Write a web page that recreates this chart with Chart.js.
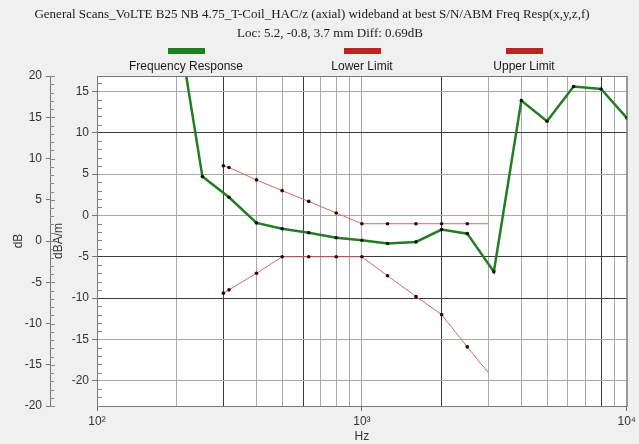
<!DOCTYPE html>
<html>
<head>
<meta charset="utf-8">
<script src="https://cdn.jsdelivr.net/npm/chart.js@4"></script>
<style>
body{margin:0;background:#f0f0f0;}
</style>
</head>
<body>
<canvas id="resp_chart" width="639" height="444"></canvas>
<script>
// measured values, dBA/m against Hz
var respFreqs = [200, 250, 315, 400, 500, 630, 800, 1000, 1250, 1600, 2000, 2500, 3150, 4000, 5000, 6300, 8000, 10000];
var respValues = [24, 4.7, 2.2, -0.9, -1.6, -2.1, -2.7, -3.0, -3.4, -3.2, -1.7, -2.2, -6.8, 13.9, 11.4, 15.6, 15.3, 11.8];

var limitFreqs = [300, 315, 400, 500, 630, 800, 1000, 1250, 1600, 2000, 2500, 3000];
var upperValues = [6.0, 5.8, 4.3, 3.0, 1.7, 0.3, -1.0, -1.0, -1.0, -1.0, -1.0, -1.0];
var lowerValues = [-9.4, -9.0, -7.0, -5.0, -5.0, -5.0, -5.0, -7.3, -9.8, -12.0, -15.9, -19.0];

var dbTicks = [-20, -15, -10, -5, 0, 5, 10, 15, 20];
var dbamTicks = [-20, -15, -10, -5, 0, 5, 10, 15];
var hzTicks = [100, 1000, 10000];
var hzLabels = ["10\u00b2", "10\u00b3", "10\u2074"];

var titleLines = [
  "General Scans_VoLTE B25 NB 4.75_T-Coil_HAC/z (axial) wideband at best S/N/ABM Freq Resp(x,y,z,f)",
  "Loc: 5.2, -0.8, 3.7 mm Diff: 0.69dB"
];
var legendNames = ["Frequency Response", "Lower Limit", "Upper Limit"];
var legendColors = ["rgb(30,125,30)", "rgb(190,35,35)", "rgb(190,35,35)"];
var legendX = [186, 362, 524];

var darkX = [300, 600, 2000, 8000];
var darkY = [10, -5, -10];

function pts(xs, ys){
  return xs.map(function(x, i){ return {x: x, y: ys[i]}; });
}

var sansFont = "'Liberation Sans', Arial, sans-serif";

var decor = {
  id: "decor",
  beforeDraw: function(chart){
    var c = chart.ctx, a = chart.chartArea;
    c.save();
    c.fillStyle = "#f0f0f0";
    c.fillRect(0, 0, chart.width, chart.height);
    c.fillStyle = "#ffffff";
    c.fillRect(a.left, a.top, a.right - a.left, a.bottom - a.top);
    c.restore();
  },
  afterDraw: function(chart){
    var c = chart.ctx, a = chart.chartArea;
    c.save();
    // title
    c.fillStyle = "#1a1a1a";
    c.textAlign = "center";
    c.textBaseline = "middle";
    c.font = "13px 'Liberation Serif', 'Times New Roman', serif";
    c.fillText(titleLines[0], 312, 15);
    c.fillText(titleLines[1], 330, 34);
    // legend
    c.font = "12px " + sansFont;
    for (var i = 0; i < legendNames.length; i++) {
      c.fillStyle = legendColors[i];
      c.fillRect(legendX[i] - 18, 48, 37, 6);
      c.fillStyle = "#1a1a1a";
      c.fillText(legendNames[i], legendX[i], 67);
    }
    // plot frame
    c.strokeStyle = "#777";
    c.lineWidth = 1;
    c.strokeRect(a.left + 0.5, a.top + 0.5, a.right - a.left, a.bottom - a.top);
    // minor ticks
    var yIn = chart.scales.y, yOut = chart.scales.y2;
    c.strokeStyle = "#888";
    c.beginPath();
    for (var v = -23; v <= 16; v++) {
      if (v % 5 === 0) continue;
      var py = Math.round(yIn.getPixelForValue(v)) + 0.5;
      c.moveTo(a.left, py); c.lineTo(a.left + 5, py);
    }
    for (var w = -20; w <= 20; w++) {
      var qy = Math.round(yOut.getPixelForValue(w)) + 0.5;
      c.moveTo(yOut.right, qy); c.lineTo(yOut.right + (w % 5 === 0 ? 5 : 4), qy);
    }
    c.stroke();
    c.restore();
  }
};

var config = {
  type: "line",
  data: {
    datasets: [{
      label: legendNames[0],
      data: pts(respFreqs, respValues),
      borderColor: "rgb(35,125,35)",
      borderWidth: 2.5,
      pointRadius: 1.8,
      pointBackgroundColor: "#111",
      pointBorderWidth: 0,
      yAxisID: "y"
    }, {
      label: legendNames[1],
      data: pts(limitFreqs, lowerValues),
      borderColor: "rgb(200,110,110)",
      borderWidth: 1,
      pointRadius: function(ctx){ return ctx.dataIndex === limitFreqs.length - 1 ? 0 : 1.8; },
      pointBackgroundColor: "#3a0000",
      pointBorderWidth: 0,
      yAxisID: "y"
    }, {
      label: legendNames[2],
      data: pts(limitFreqs, upperValues),
      borderColor: "rgb(200,110,110)",
      borderWidth: 1,
      pointRadius: function(ctx){ return ctx.dataIndex === limitFreqs.length - 1 ? 0 : 1.8; },
      pointBackgroundColor: "#3a0000",
      pointBorderWidth: 0,
      yAxisID: "y"
    }]
  },
  options: {
    responsive: false,
    animation: false,
    layout: {padding: {top: 76, left: 10, right: 12, bottom: 0}},
    plugins: {legend: {display: false}, tooltip: {enabled: false}},
    scales: {
      x: {
        type: "logarithmic",
        min: 100, max: 10000,
        afterBuildTicks: function(s){
          var t = [];
          for (var d = 100; d < 10000; d *= 10)
            for (var k = 1; k < 10; k++) t.push({value: k * d});
          t.push({value: 10000});
          s.ticks = t;
        },
        afterFit: function(s){ s.height = 38; },
        ticks: {
          autoSkip: false, maxRotation: 0, padding: 3, color: "#333",
          font: {size: 12, family: sansFont},
          callback: function(v){ var i = hzTicks.indexOf(v); return i < 0 ? "" : hzLabels[i]; }
        },
        grid: {
          tickLength: 5,
          color: function(ctx){ return darkX.indexOf(ctx.tick && ctx.tick.value) >= 0 ? "#3a3a3a" : "#a8a8a8"; },
          tickColor: function(ctx){ return hzTicks.indexOf(ctx.tick && ctx.tick.value) >= 0 ? "#777" : "rgba(0,0,0,0)"; }
        },
        border: {color: "#777"},
        title: {display: true, text: "Hz", color: "#333", font: {size: 12, family: sansFont}, padding: {top: 0, bottom: 0}}
      },
      y: {
        position: "left",
        weight: 0,
        min: -23.05, max: 16.87,
        afterBuildTicks: function(s){ s.ticks = dbamTicks.map(function(v){ return {value: v}; }); },
        afterFit: function(s){ s.width = 47; },
        ticks: {padding: 3, color: "#333", font: {size: 12, family: sansFont}},
        grid: {
          tickLength: 5,
          tickColor: "#777",
          color: function(ctx){ return darkY.indexOf(ctx.tick && ctx.tick.value) >= 0 ? "#3a3a3a" : "#a8a8a8"; }
        },
        border: {color: "#777"},
        title: {display: true, text: "dBA/m", color: "#333", font: {size: 12, family: sansFont}, padding: {top: 1, bottom: 0}}
      },
      y2: {
        position: "left",
        weight: 1,
        min: -20, max: 20,
        afterBuildTicks: function(s){ s.ticks = dbTicks.map(function(v){ return {value: v}; }); },
        afterFit: function(s){ s.width = 40; },
        ticks: {padding: 4, color: "#333", font: {size: 12, family: sansFont}},
        grid: {drawOnChartArea: false, tickLength: 4, tickColor: "#777"},
        border: {color: "#777"},
        title: {display: true, text: "dB", color: "#333", font: {size: 12, family: sansFont}, padding: {top: 1, bottom: 0}}
      }
    }
  },
  plugins: [decor]
};

window.onload = function(){
  window.respChart = new Chart(document.getElementById("resp_chart").getContext("2d"), config);
};
</script>
</body>
</html>
